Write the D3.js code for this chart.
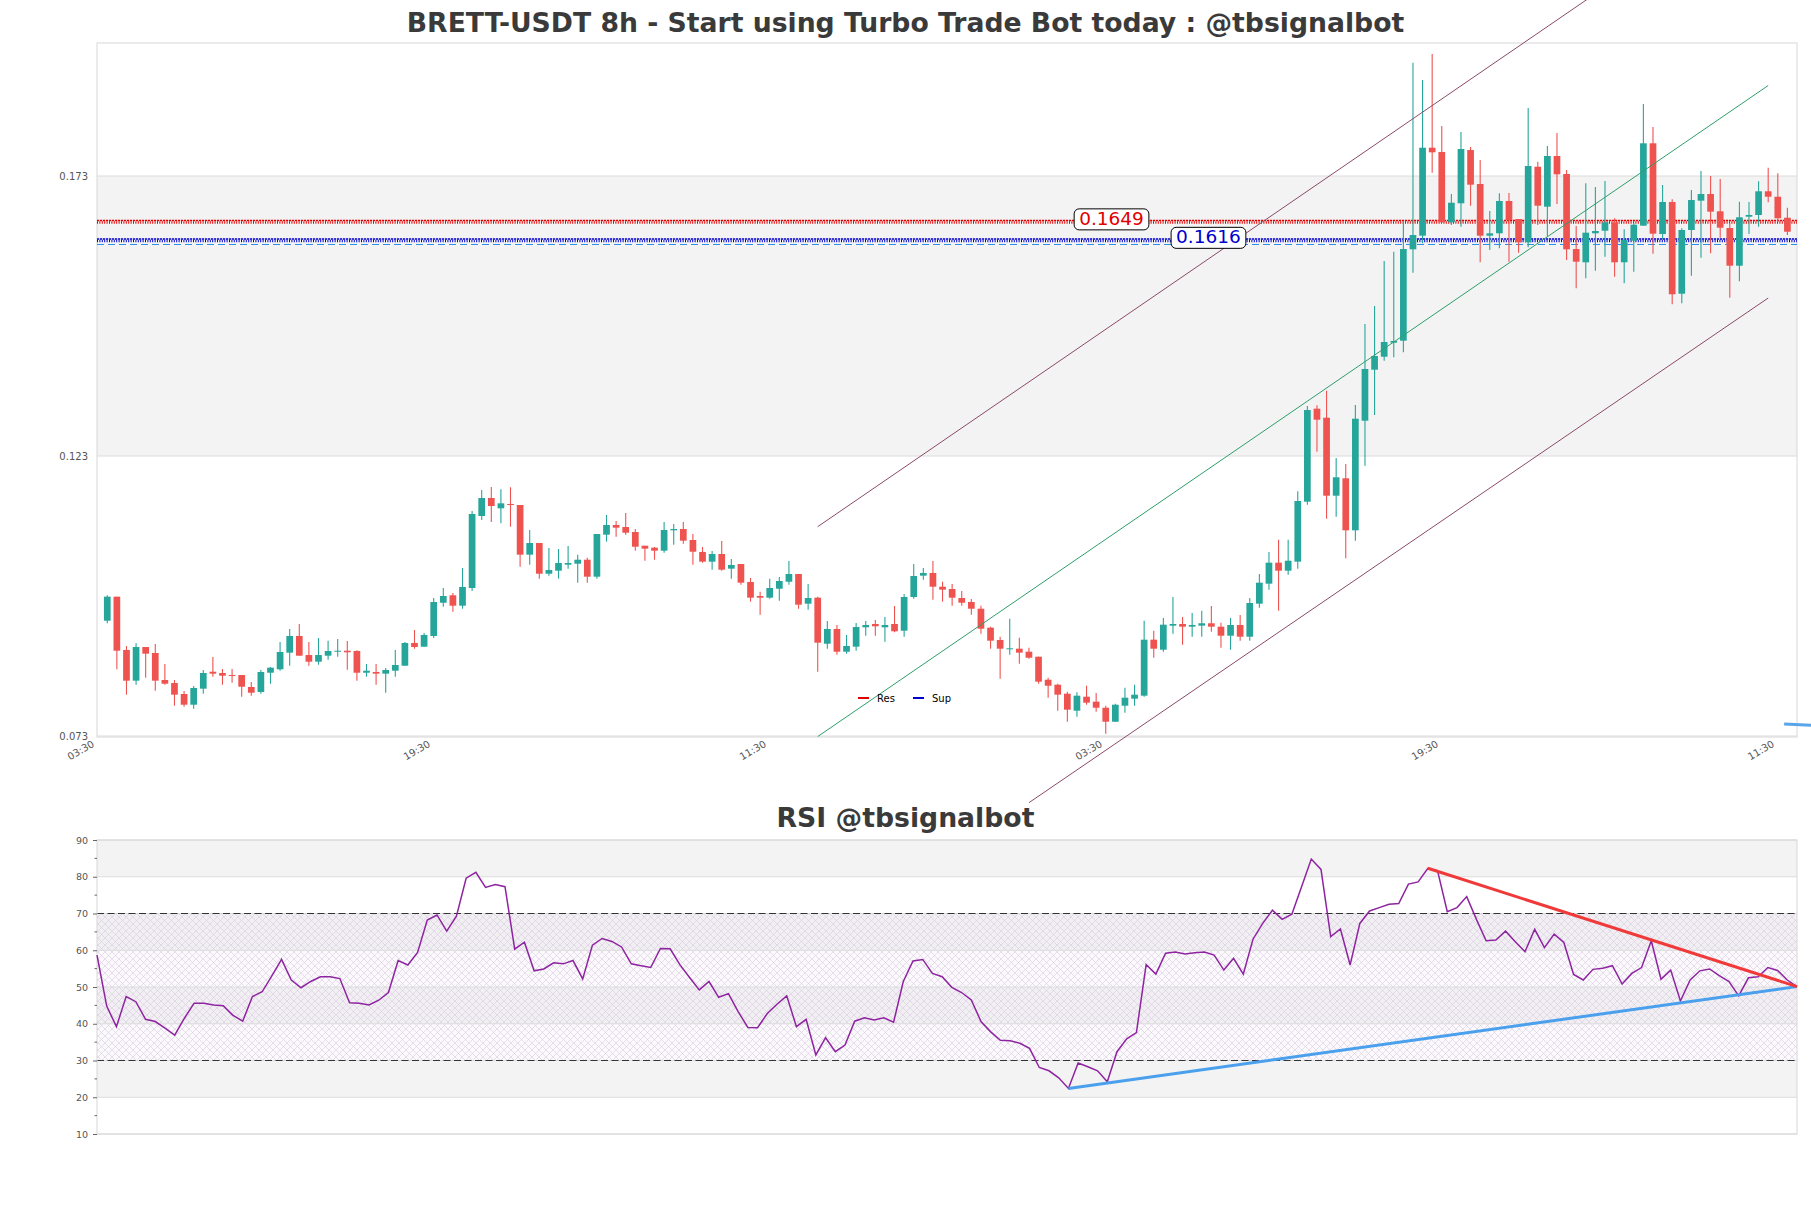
<!DOCTYPE html>
<html><head><meta charset="utf-8">
<script src="https://cdn.jsdelivr.net/npm/d3@7"></script>
<style>body{margin:0;background:#fff}svg{display:block}</style>
</head><body><svg id="c" width="1811" height="1208"></svg>
<script>
// ---------- data ----------
const opens=[0.09359,0.09788,0.08836,0.08288,0.08889,0.08782,0.0830,0.08246,0.0805,0.07859,
0.08145,0.08448,0.08425,0.08389,0.08389,0.08175,0.08086,0.0843,0.08491,0.08788,
0.09086,0.08746,0.08627,0.08734,0.08805,0.08823,0.08818,0.0843,0.08443,0.08413,
0.08466,0.08555,0.08961,0.08895,0.09086,0.0968,0.09813,0.09627,0.09943,0.11229,
0.1155,0.11366,0.11443,0.11425,0.10538,0.10746,0.10198,0.10252,0.10359,0.10377,
0.10448,0.10145,0.10895,0.11068,0.11032,0.10943,0.10698,0.10663,0.10609,0.10973,
0.10996,0.108,0.10586,0.10413,0.1055,0.10288,0.10371,0.1005,0.098,0.0977,
0.0993,0.10055,0.10193,0.09663,0.0977,0.08948,0.09211,0.08805,0.08895,0.09241,
0.093,0.09241,0.093,0.0918,0.09782,0.10163,0.10211,0.09966,0.09925,0.09764,
0.09693,0.09573,0.09234,0.09014,0.08848,0.08859,0.08805,0.08716,0.08305,0.08216,
0.08055,0.07752,0.08002,0.07913,0.07805,0.07555,0.07841,0.07966,0.0802,0.0902,
0.08841,0.0927,0.093,0.09252,0.0927,0.09313,0.09252,0.09091,0.09282,0.09073,
0.09663,0.1002,0.10395,0.10252,0.10413,0.11484,0.13145,0.12984,0.11591,0.11902,
0.10973,0.1293,0.13841,0.14073,0.14323,0.14359,0.15991,0.16234,0.17805,0.17729,
0.16473,0.16813,0.17764,0.17157,0.16234,0.16277,0.16854,0.16532,0.16116,0.17466,
0.16752,0.17657,0.17336,0.15996,0.15759,0.16277,0.16323,0.16473,0.15759,0.16145,
0.16413,0.17884,0.16264,0.16836,0.15198,0.16336,0.16859,0.16979,0.1667,0.16371,
0.15698,0.16573,0.16604,0.17027,0.1693,0.16555];
const highs=[0.09813,0.09788,0.08907,0.08955,0.08889,0.08943,0.08586,0.0830,0.08104,0.08193,
0.08479,0.08711,0.08496,0.08496,0.08389,0.08264,0.08479,0.08532,0.08979,0.09211,
0.093,0.08979,0.0905,0.09002,0.09032,0.08996,0.0883,0.08586,0.08586,0.08514,
0.08836,0.08979,0.09193,0.09139,0.09764,0.09943,0.09854,0.103,0.11318,0.11693,
0.11746,0.11705,0.11741,0.11425,0.10979,0.10746,0.10657,0.10639,0.10693,0.10538,
0.10484,0.10907,0.11246,0.11139,0.11282,0.10996,0.10698,0.10675,0.11121,0.11086,
0.11121,0.10907,0.10675,0.10604,0.10782,0.10461,0.10371,0.10121,0.09877,0.10109,
0.10139,0.10425,0.10193,0.10014,0.09788,0.09354,0.09282,0.09104,0.09318,0.09354,
0.09371,0.09425,0.09621,0.09836,0.10371,0.103,0.10425,0.10055,0.10014,0.09889,
0.09746,0.09627,0.09252,0.09073,0.09395,0.09055,0.08877,0.08716,0.08341,0.08234,
0.08091,0.0808,0.08198,0.08068,0.07841,0.07877,0.08163,0.08216,0.09359,0.0918,
0.09407,0.09782,0.09425,0.09496,0.09538,0.09621,0.09323,0.09407,0.09461,0.09764,
0.10193,0.10586,0.10805,0.10805,0.1167,0.13193,0.13205,0.13466,0.12264,0.12157,
0.13211,0.14657,0.14979,0.15782,0.15948,0.16502,0.19323,0.19014,0.19479,0.18193,
0.16979,0.18086,0.17818,0.17586,0.16675,0.16991,0.16996,0.16532,0.18514,0.17555,
0.17836,0.18068,0.17407,0.16407,0.1717,0.17104,0.17211,0.16545,0.16348,0.16466,
0.18586,0.18175,0.17139,0.16884,0.16366,0.1705,0.17389,0.173,0.17246,0.16466,
0.16841,0.16836,0.17205,0.17448,0.17348,0.16734];
const lows=[0.09313,0.08491,0.08038,0.08216,0.08341,0.08109,0.08216,0.07841,0.07823,0.07788,
0.08055,0.08359,0.08216,0.08252,0.08002,0.0802,0.08055,0.08234,0.08466,0.08555,
0.08734,0.08555,0.08573,0.08663,0.08716,0.08484,0.08288,0.08359,0.08216,0.08073,
0.08359,0.08555,0.08859,0.08895,0.0905,0.09609,0.0952,0.09573,0.09889,0.11157,
0.11121,0.11098,0.11038,0.10323,0.10359,0.10109,0.10163,0.10109,0.10288,0.10038,
0.10038,0.10109,0.1077,0.10859,0.10895,0.10609,0.1043,0.10448,0.10573,0.10716,
0.10734,0.10359,0.10395,0.1027,0.10252,0.10109,0.10002,0.09698,0.09466,0.09752,
0.09716,0.10002,0.09573,0.09555,0.08448,0.08859,0.08752,0.0877,0.08823,0.09091,
0.09091,0.08984,0.09152,0.09073,0.09752,0.10091,0.09734,0.09698,0.09627,0.09627,
0.09466,0.09127,0.08859,0.08323,0.08752,0.08591,0.0868,0.08234,0.07984,0.07752,
0.07555,0.07645,0.07859,0.07734,0.07341,0.07555,0.07716,0.07841,0.08002,0.08698,
0.08805,0.09127,0.0893,0.09073,0.09073,0.09163,0.08877,0.08841,0.09002,0.09002,
0.09591,0.09913,0.09538,0.1018,0.10288,0.1143,0.12377,0.1118,0.11216,0.10473,
0.10788,0.12127,0.13032,0.14002,0.14063,0.14152,0.15573,0.16098,0.17359,0.16473,
0.16425,0.16395,0.1677,0.15759,0.15979,0.16009,0.1577,0.1593,0.16027,0.16425,
0.16216,0.168,0.158,0.15295,0.15473,0.15609,0.15859,0.15502,0.15384,0.15591,
0.16413,0.15913,0.1617,0.15009,0.15027,0.1552,0.15841,0.1592,0.16198,0.15127,
0.1542,0.16264,0.16395,0.1683,0.16473,0.16246];
const closes=[0.09788,0.08823,0.08288,0.08889,0.0877,0.08288,0.08234,0.08038,0.07859,0.08157,
0.08425,0.08413,0.08377,0.08377,0.0818,0.08073,0.08443,0.0852,0.088,0.09086,
0.08734,0.08627,0.08746,0.08818,0.08823,0.08795,0.0843,0.08466,0.08413,0.08479,
0.08568,0.08961,0.08889,0.09104,0.09693,0.098,0.09627,0.09961,0.11264,0.1155,
0.11407,0.11455,0.11425,0.10538,0.10746,0.10198,0.10264,0.10389,0.10389,0.10448,
0.10145,0.10907,0.11068,0.1102,0.1093,0.1068,0.10645,0.10609,0.10979,0.10996,
0.10788,0.10591,0.10413,0.1055,0.1027,0.10354,0.10038,0.0977,0.0977,0.09943,
0.10068,0.10193,0.09645,0.09764,0.08966,0.09211,0.08805,0.08907,0.09246,0.09282,
0.09259,0.09282,0.0917,0.09782,0.10157,0.10211,0.09966,0.09913,0.0977,0.0968,
0.09573,0.09216,0.09002,0.08859,0.08866,0.08788,0.08698,0.0827,0.08198,0.08038,
0.0777,0.0802,0.07895,0.07805,0.07555,0.07859,0.07984,0.08038,0.0902,0.08859,
0.09288,0.093,0.09252,0.09282,0.09313,0.09252,0.09091,0.09282,0.09073,0.09675,
0.10038,0.10395,0.10252,0.1043,0.11496,0.13121,0.12948,0.11591,0.1192,0.10973,
0.12966,0.13854,0.14086,0.14336,0.14354,0.15996,0.16246,0.17805,0.17723,0.16473,
0.16823,0.17782,0.17145,0.16234,0.16277,0.16854,0.16514,0.16116,0.17479,0.1677,
0.17657,0.1733,0.15991,0.1577,0.16288,0.16318,0.16473,0.15759,0.16157,0.1643,
0.17884,0.1627,0.16836,0.15188,0.16336,0.16871,0.16979,0.16663,0.16377,0.15698,
0.16563,0.16604,0.17027,0.1693,0.16545,0.16305];
const rsiValues=[58.7,44.8,39.2,47.4,46.0,41.2,40.6,38.8,36.9,41.5,
45.6,45.6,45.1,44.9,42.3,40.7,47.4,48.7,53.0,57.5,
51.9,49.8,51.5,52.8,52.8,52.3,45.7,45.6,45.1,46.4,
48.5,57.2,56.0,59.4,68.2,69.6,65.2,69.3,79.6,81.2,
77.1,77.9,77.3,60.3,62.2,54.4,54.9,56.6,56.3,57.2,
52.2,61.4,63.2,62.4,60.9,56.3,55.8,55.3,60.5,60.4,
56.1,52.6,49.2,51.5,47.2,48.2,43.3,39.0,38.9,42.8,
45.3,47.6,39.2,41.2,31.5,36.2,32.4,34.2,40.7,41.6,
41.0,41.6,40.4,51.5,57.1,57.5,53.7,52.8,49.9,48.5,
46.5,40.6,37.8,35.5,35.4,34.7,33.3,28.1,27.2,25.3,
22.4,29.3,28.3,27.2,24.2,32.4,35.9,37.6,56.1,53.5,
59.2,59.5,59.0,59.3,59.5,58.7,54.6,57.8,53.5,63.0,
67.3,70.9,68.4,69.8,77.3,84.8,82.0,63.7,65.8,56.0,
67.3,70.7,71.6,72.5,72.7,78.0,78.6,82.3,81.6,70.5,
71.6,74.6,68.4,62.6,62.8,65.2,62.3,59.6,65.7,60.7,
64.4,62.1,53.4,51.9,54.8,55.1,55.8,50.8,53.7,55.3,
62.6,52.1,54.6,46.2,51.9,54.4,54.9,53.1,51.5,47.6,
52.5,52.8,55.3,54.5,51.9,50.1];
const xTickIdx=[-1.28,33.72,68.72,103.72,138.72,173.72];
const xTickLabels=["03:30","19:30","11:30","03:30","19:30","11:30"];
const priceTicks=[0.073,0.123,0.173];
const rsiTicks=[10,20,30,40,50,60,70,80,90];
const resLevel=0.1649, supLevel=0.1616, lastLevel=0.16077;
const resLabelIdx=104.6, supLabelIdx=114.7;
const channelMid=[[74,0.0729],[173,0.18916]];
const channelUpper=[[74,0.11038],[173,0.2267]];
const channelLower=[[96,0.06109],[173,0.15121]];
const arrowSeg=[[174.66,0.07514],[178,0.07490]];
const rsiResLine=[[137,82.3],[175,50.1]];
const rsiSupLine=[[100,22.4],[175,50.1]];
const titleMain="BRETT-USDT 8h - Start using Turbo Trade Bot today : @tbsignalbot";
const titleRsi="RSI @tbsignalbot";
const legendItems=[{name:"Res",color:"#e00000"},{name:"Sup",color:"#0000cc"}];

// ---------- layout ----------
const svg=d3.select("#c");
const P={l:97,r:1797,t:43,b:737};
const R={l:97,r:1797,t:840,b:1134};
const FONT="DejaVu Sans, sans-serif";
const x=d3.scaleLinear().domain([-1.07,176]).range([P.l,P.r]);
const y=d3.scaleLinear().domain([0.073,0.173]).range([736,176]);
const xr=d3.scaleLinear().domain([0,175]).range([R.l,R.r]);
const yr=d3.scaleLinear().domain([10,90]).range([R.b,R.t]);
const GREEN="#26a69a", RED="#ef5350", GRID="#dcdcdc", BAND="#f3f3f3";

const defs=svg.append("defs");
const pat=defs.append("pattern").attr("id","hatch").attr("patternUnits","userSpaceOnUse")
  .attr("width",7).attr("height",7);
pat.append("path").attr("d","M0,0L7,7M7,0L0,7M-1,6L1,8M6,-1L8,1M-1,1L1,-1M6,8L8,6")
  .attr("stroke","#d9c9e1").attr("stroke-width",0.6).attr("fill","none");

// titles
function fitTitle(txt,cx,by,w){
  const t=svg.append("text").attr("x",cx).attr("y",by).attr("text-anchor","middle")
    .attr("font-family",FONT).attr("font-weight","bold").attr("fill","#3a3a3a")
    .attr("font-size",24).text(txt);
  const L=t.node().getComputedTextLength();
  t.attr("font-size",24*w/L);
}
fitTitle(titleMain,905.5,32,998);
fitTitle(titleRsi,905.5,827,258);

// ---------- main panel ----------
const main=svg.append("g");
main.append("rect").attr("x",P.l).attr("y",P.t).attr("width",P.r-P.l).attr("height",P.b-P.t).attr("fill","#fff");
main.append("rect").attr("x",P.l).attr("width",P.r-P.l)
  .attr("y",y(priceTicks[2])).attr("height",y(priceTicks[1])-y(priceTicks[2])).attr("fill",BAND);
main.selectAll(".pg").data(priceTicks).join("line")
  .attr("x1",P.l).attr("x2",P.r).attr("y1",d=>y(d)).attr("y2",d=>y(d))
  .attr("stroke",GRID).attr("stroke-width",1);
main.append("rect").attr("x",P.l).attr("y",P.t).attr("width",P.r-P.l).attr("height",P.b-P.t)
  .attr("fill","none").attr("stroke","#d8d8d8").attr("stroke-width",1);
main.selectAll(".pl").data(priceTicks).join("text")
  .attr("x",P.l-9).attr("y",d=>y(d)+3.5).attr("text-anchor","end")
  .attr("font-family",FONT).attr("font-size",10).attr("fill","#555")
  .text(d=>d3.format(".3f")(d));
main.selectAll(".xl").data(xTickIdx).join("text")
  .attr("transform",d=>`translate(${x(d)},746) rotate(-30)`)
  .attr("text-anchor","end").attr("font-family",FONT).attr("font-size",10).attr("fill","#555")
  .text((d,i)=>xTickLabels[i]);

// res / sup lines
function levelLine(v,color){
  const yy=y(v);
  main.append("line").attr("x1",P.l).attr("x2",P.r).attr("y1",yy-0.8).attr("y2",yy-0.8)
    .attr("stroke",color).attr("stroke-width",1.6).attr("stroke-dasharray","2.2,0.8");
  main.append("line").attr("x1",P.l).attr("x2",P.r).attr("y1",yy+1.2).attr("y2",yy+1.2)
    .attr("stroke",color).attr("stroke-width",2.4).attr("stroke-dasharray","1,1.4");
}
levelLine(resLevel,"#e00000");
levelLine(supLevel,"#0000cc");
main.append("line").attr("x1",P.l).attr("x2",P.r).attr("y1",y(lastLevel)).attr("y2",y(lastLevel))
  .attr("stroke","#2a8fe8").attr("stroke-width",1).attr("stroke-dasharray","7,4");

// candles
const idx=d3.range(opens.length);
const bw=6.7;
const cg=main.append("g");
cg.selectAll(".w").data(idx).join("line")
  .attr("x1",i=>x(i)).attr("x2",i=>x(i)).attr("y1",i=>y(highs[i])).attr("y2",i=>y(lows[i]))
  .attr("stroke",i=>closes[i]>=opens[i]?GREEN:RED).attr("stroke-width",1.1);
cg.selectAll(".b").data(idx).join("rect")
  .attr("x",i=>x(i)-bw/2).attr("width",bw)
  .attr("y",i=>y(Math.max(opens[i],closes[i])))
  .attr("height",i=>Math.max(1,Math.abs(y(opens[i])-y(closes[i]))))
  .attr("fill",i=>closes[i]>=opens[i]?GREEN:RED);

// channel lines (not clipped)
const ln=d3.line().x(d=>x(d[0])).y(d=>y(d[1]));
main.append("path").attr("d",ln(channelUpper)).attr("stroke","#8a4a6a").attr("stroke-width",1).attr("fill","none");
main.append("path").attr("d",ln(channelLower)).attr("stroke","#8a4a6a").attr("stroke-width",1).attr("fill","none");
main.append("path").attr("d",ln(channelMid)).attr("stroke","#2e9e6a").attr("stroke-width",1).attr("fill","none");
main.append("path").attr("d",ln(arrowSeg)).attr("stroke","#5aa5ea").attr("stroke-width",3).attr("fill","none");

// level labels
function levelLabel(v,idxPos,color){
  const g=main.append("g");
  const t=g.append("text").attr("x",x(idxPos)).attr("y",y(v)+3.5).attr("text-anchor","middle")
    .attr("font-family",FONT).attr("font-size",18.5).attr("fill",color).text(v.toFixed(4));
  const bb=t.node().getBBox();
  g.insert("rect","text").attr("x",bb.x-5).attr("y",bb.y+1).attr("width",bb.width+10).attr("height",bb.height)
    .attr("rx",5).attr("fill","#fff").attr("stroke","#000").attr("stroke-width",1);
}
levelLabel(resLevel,resLabelIdx,"#e00000");
levelLabel(supLevel,supLabelIdx,"#0000cc");

// legend
const lg=main.append("g").attr("transform","translate(858,698)");
legendItems.forEach((d,i)=>{
  const ox=i*55;
  lg.append("line").attr("x1",ox).attr("x2",ox+11).attr("y1",0).attr("y2",0).attr("stroke",d.color).attr("stroke-width",2);
  lg.append("text").attr("x",ox+19).attr("y",3.5).attr("font-family",FONT).attr("font-size",10).attr("fill","#000").text(d.name);
});

// ---------- RSI panel ----------
const rg=svg.append("g");
rg.append("rect").attr("x",R.l).attr("y",R.t).attr("width",R.r-R.l).attr("height",R.b-R.t).attr("fill","#fff");
const bands=d3.pairs(rsiTicks).filter((p,i)=>i%2===1);
rg.selectAll(".rb").data(bands).join("rect")
  .attr("x",R.l).attr("width",R.r-R.l).attr("y",d=>yr(d[1])).attr("height",d=>yr(d[0])-yr(d[1]))
  .attr("fill",BAND);
rg.append("rect").attr("x",R.l).attr("width",R.r-R.l).attr("y",yr(70)).attr("height",yr(30)-yr(70))
  .attr("fill","#e8dcf0").attr("fill-opacity",0.18);
rg.append("rect").attr("x",R.l).attr("width",R.r-R.l).attr("y",yr(70)).attr("height",yr(30)-yr(70))
  .attr("fill","url(#hatch)");
rg.selectAll(".rgl").data(rsiTicks).join("line")
  .attr("x1",R.l).attr("x2",R.r).attr("y1",d=>yr(d)).attr("y2",d=>yr(d)).attr("stroke",GRID);
rg.selectAll(".rdl").data([30,70]).join("line")
  .attr("x1",R.l).attr("x2",R.r).attr("y1",d=>yr(d)).attr("y2",d=>yr(d))
  .attr("stroke","#333").attr("stroke-width",1.2).attr("stroke-dasharray","7,3.5");
rg.append("rect").attr("x",R.l).attr("y",R.t).attr("width",R.r-R.l).attr("height",R.b-R.t)
  .attr("fill","none").attr("stroke","#d8d8d8");
const rAxis=d3.axisLeft(yr).tickValues(rsiTicks).tickSize(4).tickPadding(5);
const ax=rg.append("g").attr("transform",`translate(${R.l},0)`).call(rAxis);
ax.select(".domain").remove();
ax.selectAll("line").attr("stroke","#666");
ax.selectAll("text").attr("font-family",FONT).attr("font-size",9.5).attr("fill","#555");
const minor=d3.range(15,90,10);
rg.selectAll(".mt").data(minor).join("line").attr("x1",R.l-2.5).attr("x2",R.l)
  .attr("y1",d=>yr(d)).attr("y2",d=>yr(d)).attr("stroke","#666");
const rl=d3.line().x((d,i)=>xr(i)).y(d=>yr(d));
rg.append("path").attr("d",rl(rsiValues)).attr("fill","none").attr("stroke","#8e24a0").attr("stroke-width",1.5);
const tl=d3.line().x(d=>xr(d[0])).y(d=>yr(d[1]));
rg.append("path").attr("d",tl(rsiSupLine)).attr("stroke","#4aa0ec").attr("stroke-width",3).attr("fill","none");
rg.append("path").attr("d",tl(rsiResLine)).attr("stroke","#f03a3a").attr("stroke-width",3).attr("fill","none");
</script></body></html>
